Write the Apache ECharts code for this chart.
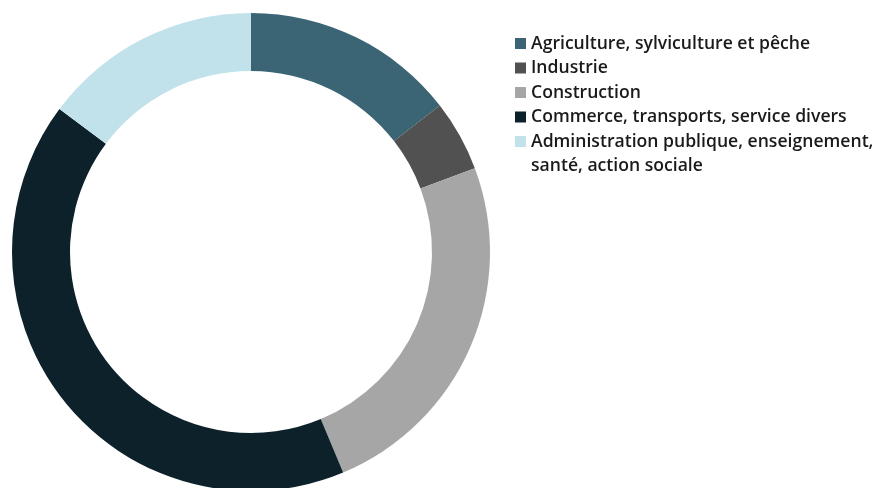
<!DOCTYPE html>
<html>
<head>
<meta charset="utf-8">
<script src="https://cdn.jsdelivr.net/npm/echarts@6/dist/echarts.min.js"></script>
<style>
  html, body { margin: 0; padding: 0; background: #ffffff; }
  #chart { width: 879px; height: 488px; }
</style>
</head>
<body>
<div id="chart"></div>
<script>
// Sectors of activity and their share (%)
const sectors = [
  'Agriculture, sylviculture et pêche',
  'Industrie',
  'Construction',
  'Commerce, transports, service divers',
  'Administration publique, enseignement, santé, action sociale'
];
const shares = [14.5, 4.8, 24.4, 41.5, 14.8];
const colors = ['#3b6575', '#515151', '#a6a6a6', '#0c2129', '#c1e2ea'];

// legend geometry
const LEGEND_LEFT = 515;
const LEGEND_TOP = 31.5;
const ROW_H = 24;
const ROW_GAP = 0.5;
const SWATCH = 11;
const FONT = { family: 'Open Sans', weight: 600, size: 17.6, color: '#1a1a1a' };

// the long last label continues on a second line below its swatch row
const WRAP_AT = 'enseignement, ';
const lastName = sectors[sectors.length - 1];
const wrapIdx = lastName.indexOf(WRAP_AT) + WRAP_AT.length;
const firstLine = lastName.slice(0, wrapIdx).trim();
const secondLine = lastName.slice(wrapIdx);

const chart = echarts.init(document.getElementById('chart'), null, { renderer: 'canvas' });

const lastRowCenter = LEGEND_TOP + ROW_H / 2 + (sectors.length - 1) * (ROW_H + ROW_GAP);

chart.setOption({
  animation: false,
  color: colors,
  legend: {
    orient: 'vertical',
    left: LEGEND_LEFT,
    top: LEGEND_TOP,
    padding: 0,
    itemWidth: SWATCH,
    itemHeight: SWATCH,
    itemGap: ROW_GAP,
    icon: 'rect',
    data: sectors,
    formatter: function (name) {
      return name === lastName ? firstLine : name;
    },
    textStyle: {
      fontFamily: FONT.family,
      fontWeight: FONT.weight,
      fontSize: FONT.size,
      color: FONT.color,
      lineHeight: ROW_H
    }
  },
  graphic: [{
    type: 'text',
    silent: true,
    style: {
      text: secondLine,
      x: LEGEND_LEFT + SWATCH + 5,
      y: lastRowCenter + ROW_H,
      verticalAlign: 'middle',
      font: FONT.weight + ' ' + FONT.size + 'px "' + FONT.family + '"',
      fill: FONT.color
    }
  }],
  series: [{
    type: 'pie',
    center: [251, 252],
    radius: [181, 239],
    startAngle: 90,
    clockwise: true,
    label: { show: false },
    labelLine: { show: false },
    itemStyle: { borderWidth: 0 },
    emphasis: { disabled: true },
    data: sectors.map((name, i) => ({ name: name, value: shares[i] }))
  }]
});
</script>
</body>
</html>
